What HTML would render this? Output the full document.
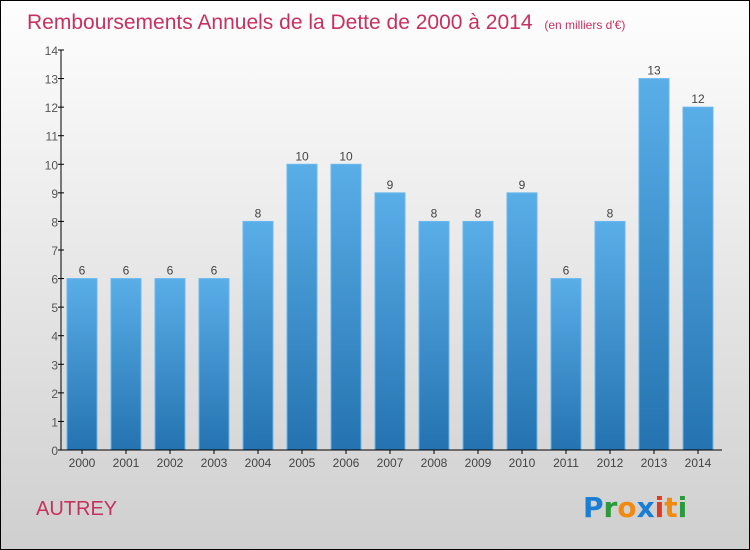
<!DOCTYPE html>
<html><head><meta charset="utf-8"><style>
body{margin:0}
#c{position:relative;width:748px;height:548px;border:1px solid #000;background:linear-gradient(#fefefe,#f0f0f0 30%,#cfcfcf);font-family:"Liberation Sans",sans-serif;overflow:hidden}
</style></head><body>
<div id="c">
<svg width="748" height="548" id="svg">
<defs><linearGradient id="bg" x1="0" y1="0" x2="0" y2="1"><stop offset="0" stop-color="#5aaee8"/><stop offset="1" stop-color="#2473b0"/></linearGradient></defs>
<text x="26" y="28" font-size="21" fill="#c8305f">Remboursements Annuels de la Dette de 2000 à 2014 <tspan font-size="12" dx="6">(en milliers d'€)</tspan></text>
<text x="35" y="514" font-size="20" fill="#c8305f">AUTREY</text>
<g font-size="28" font-weight="bold" font-family="'DejaVu Sans',sans-serif">
<text x="582" y="516"><tspan fill="#1a7fd4">P</tspan><tspan fill="#2a9a3a">r</tspan><tspan fill="#f08a10">o</tspan><tspan fill="#1a7fd4">x</tspan><tspan fill="#e03a20">i</tspan><tspan fill="#f08a10">t</tspan><tspan fill="#2a9a3a">i</tspan></text></g>
<g id="plot"></g>
</svg>
</div>
<script>
const categories=["2000","2001","2002","2003","2004","2005","2006","2007","2008","2009","2010","2011","2012","2013","2014"];
const values=[6,6,6,6,8,10,10,9,8,8,9,6,8,13,12];
const yTicks=[0,1,2,3,4,5,6,7,8,9,10,11,12,13,14];
const NS="http://www.w3.org/2000/svg";
const g=document.getElementById('plot');
const y=v=>449-v*(400/14);
const x=i=>81+i*44;
function mk(t,a){const e=document.createElementNS(NS,t);for(const k in a)e.setAttribute(k,a[k]);g.appendChild(e);return e;}
categories.forEach((c,i)=>{
 const r=mk('rect',{x:x(i)-15,y:y(values[i]),width:30,height:y(0)-y(values[i]),fill:'url(#bg)',stroke:'#6ab8ee','stroke-width':1});
 
 
 const l=mk('text',{x:x(i),y:y(values[i])-4,'font-size':12,fill:'#444','text-anchor':'middle'});l.textContent=values[i];
 
 
 const t=mk('text',{x:x(i),y:466,'font-size':12,fill:'#444','text-anchor':'middle'});t.textContent=c;
 
 
 mk('line',{x1:x(i),x2:x(i),y1:449,y2:453,stroke:'#000'});
});
yTicks.forEach(v=>{
 mk('line',{x1:57,x2:63,y1:y(v),y2:y(v),stroke:'#000'});
 const t=mk('text',{x:57,y:y(v)+5,'font-size':12,fill:'#555','text-anchor':'end'});t.textContent=v;
 
 
});
const ya=mk('line',{x1:60,x2:60,y1:49,y2:449,stroke:'#000'});


const xa=mk('line',{x1:57,x2:721,y1:449,y2:449,stroke:'#000'});


</script>
</body></html>
